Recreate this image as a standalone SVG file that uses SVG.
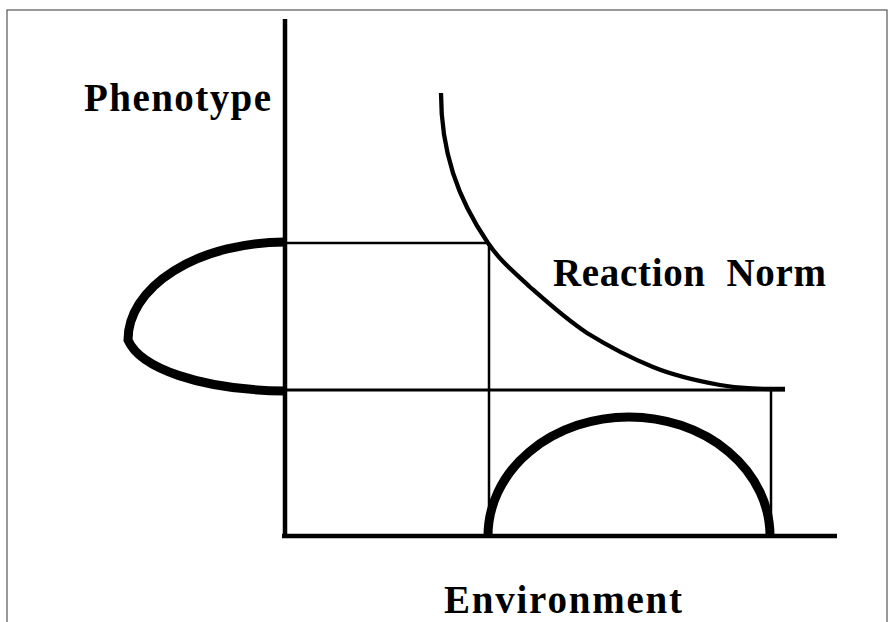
<svg xmlns="http://www.w3.org/2000/svg" width="890" height="622" viewBox="0 0 890 622">
<style>
.lbl{font-family:"Liberation Serif","Times New Roman",serif;font-weight:bold;font-size:39px;fill:#000}
.axis{stroke:#000;stroke-width:4.5;fill:none}
.thin{stroke:#000;stroke-width:2.5;fill:none}
.curve{stroke:#000;stroke-width:4.3;fill:none;stroke-linecap:butt}
.dist{stroke:#000;stroke-width:9;fill:none}
</style>
<rect x="0" y="0" width="890" height="622" fill="#fff"/>
<rect x="7" y="10" width="880" height="640" fill="none" stroke="#555" stroke-width="1.2"/>
<g id="axes">
<line class="axis" x1="285" y1="19" x2="285" y2="538"/>
<line class="axis" x1="282" y1="536" x2="837" y2="536"/>
</g>
<g id="connectors">
<line class="thin" x1="285" y1="243" x2="489" y2="243"/>
<line class="thin" x1="489" y1="243" x2="489" y2="536"/>
<line class="thin" x1="285" y1="390" x2="785" y2="390" style="stroke-width:3"/>
<line class="thin" x1="771" y1="390" x2="771" y2="536"/>
</g>
<g id="reaction-norm">
<path class="curve" d="M441,93 C441,120 445,148 453,173 C461,198 475,224 488,243 C501,262 514,272 530,287 C547,302 567,320 587,333 C608,346 631,358 653,367 C675,376 698,381 720,385 C742,389 762,389 785,389"/>
</g>
<g id="phenotype-distribution">
<path class="dist" d="M285,242 A157,98 0 0 0 128,340 C140,368 200,390 285,391"/>
</g>
<g id="environment-distribution">
<path class="dist" d="M488,536 A141,119 0 0 1 770,536"/>
</g>
<g id="labels">
<text class="lbl" x="84" y="111" textLength="187" lengthAdjust="spacing">Phenotype</text>
<text class="lbl" x="553" y="286" textLength="273" lengthAdjust="spacing" xml:space="preserve">Reaction  Norm</text>
<text class="lbl" x="444" y="613" textLength="238" lengthAdjust="spacing">Environment</text>
</g>
</svg>
